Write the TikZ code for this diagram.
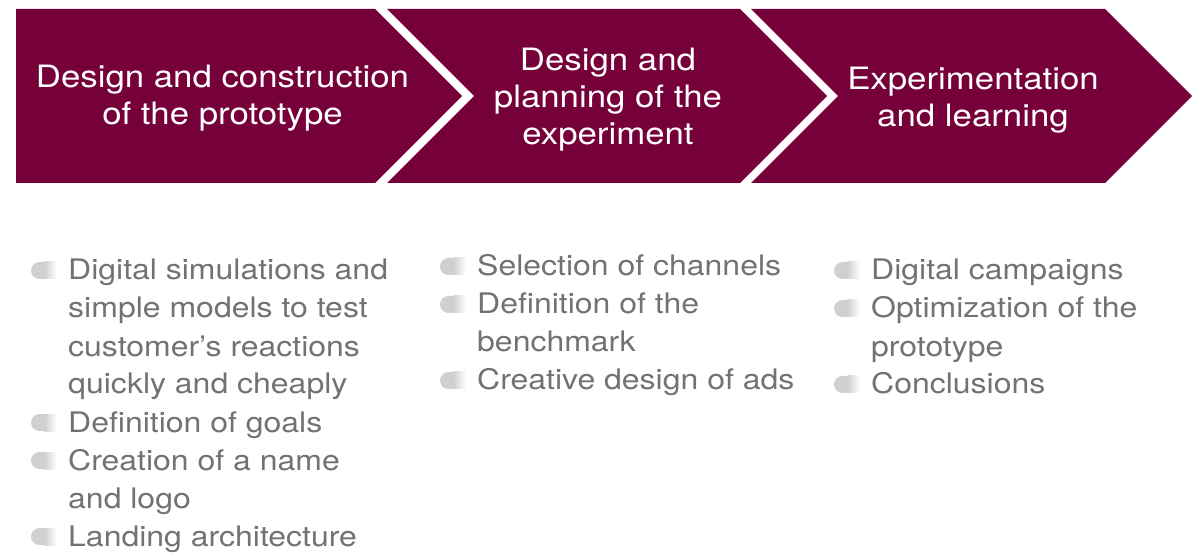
\documentclass[tikz,border=0pt]{standalone}
\usepackage{fontspec}
\setmainfont{TeX Gyre Heros}[FakeStretch=1.13]
\definecolor{maroon}{HTML}{76003A}
\definecolor{txt}{HTML}{727272}
\definecolor{dotgray}{HTML}{D0D0D0}
\tikzset{
  head/.style={text=white, font=\fontsize{30.8}{37}\selectfont, inner sep=0pt, anchor=base},
  item/.style={text=txt, font=\fontsize{28.3}{38}\selectfont, inner sep=0pt, anchor=base west},
  banner/.style={fill=maroon},
  dotsolid/.style={fill=dotgray},
  dotfade/.style={left color=dotgray, right color=white}
}
\newcommand\bulletmark[2]{%
  \fill[dotsolid] (#1+14,-#2+18) -- (#1+8.5,-#2+18)
    arc[start angle=90, end angle=270, radius=8.5] -- (#1+14,-#2+1) -- cycle;
  \shade[dotfade] (#1+13.5,-#2+18) rectangle (#1+26,-#2+1);}
\begin{document}
\begin{tikzpicture}[x=1pt,y=1pt]
\useasboundingbox (0,0) rectangle (1192,-553);
% banners
\fill[banner] (16,-9) -- (375,-9) -- (462,-96) -- (375,-183) -- (16,-183) -- cycle;
\fill[banner] (387,-9) -- (740,-9) -- (827,-96) -- (740,-183) -- (387,-183) -- (474,-96) -- cycle;
\fill[banner] (751,-9) -- (1105,-9) -- (1192,-96) -- (1105,-183) -- (751,-183) -- (838,-96) -- cycle;
% banner texts
\node[head] (b1a) at (222.5,-88) {Design and construction};
\node[head] (b1b) at (222.5,-125) {of the prototype};
\node[head] (b2a) at (608,-71) {Design and};
\node[head] (b2b) at (608,-108) {planning of the};
\node[head] (b2c) at (608,-145) {experiment};
\node[head] (b3a) at (973,-90) {Experimentation};
\node[head] (b3b) at (973,-127) {and learning};
% column 1
\bulletmark{31}{280}
\node[item] (c1a) at (68,-280) {Digital simulations and};
\node[item] (c1b) at (68,-318) {simple models to test};
\node[item] (c1c) at (68,-356) {customer’s reactions};
\node[item] (c1d) at (68,-394) {quickly and cheaply};
\bulletmark{31}{432}
\node[item] (c1e) at (68,-432) {Definition of goals};
\bulletmark{31}{470}
\node[item] (c1f) at (68,-470) {Creation of a name};
\node[item] (c1g) at (68,-508) {and logo};
\bulletmark{31}{546}
\node[item] (c1h) at (68,-546) {Landing architecture};
% column 2
\bulletmark{440}{276}
\node[item] (c2a) at (477,-276) {Selection of channels};
\bulletmark{440}{314}
\node[item] (c2b) at (477,-314) {Definition of the};
\node[item] (c2c) at (477,-352) {benchmark};
\bulletmark{440}{390}
\node[item] (c2d) at (477,-390) {Creative design of ads};
% column 3
\bulletmark{834}{280}
\node[item] (c3a) at (871,-280) {Digital campaigns};
\bulletmark{834}{318}
\node[item] (c3b) at (871,-318) {Optimization of the};
\node[item] (c3c) at (871,-356) {prototype};
\bulletmark{834}{394}
\node[item] (c3d) at (871,-394) {Conclusions};
\end{tikzpicture}
\end{document}
